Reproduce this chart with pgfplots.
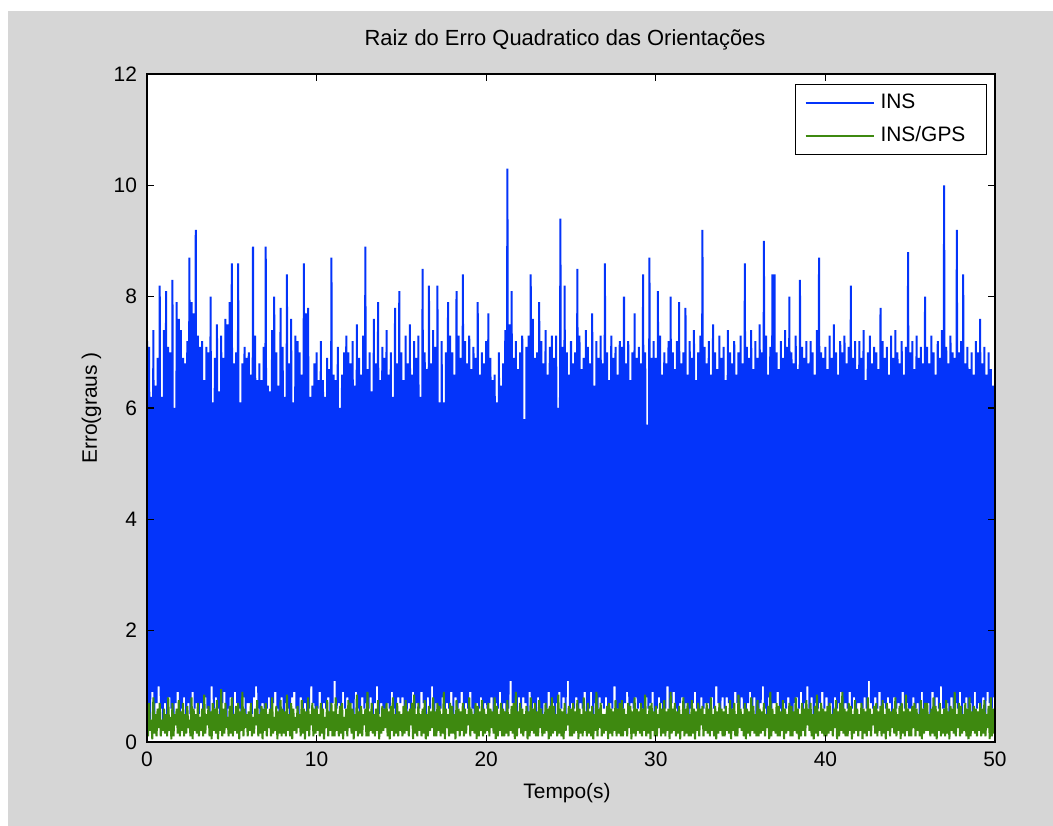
\documentclass[border=0pt]{standalone}
\usepackage{fontspec}
\setmainfont{Liberation Sans}
\usepackage{pgfplots}
\pgfplotsset{compat=1.18}

\definecolor{insblue}{RGB}{4,52,250}
\definecolor{gpsgreen}{RGB}{62,137,16}
\definecolor{figgray}{RGB}{214,214,214}
\newcommand{\lblfont}{\fontsize{10.5}{12.6}\selectfont}

\begin{document}
\begin{tikzpicture}
% figure background
\fill[white] (0,0) rectangle (526.5bp,413bp);
\fill[figgray] (4bp,0) rectangle (526.5bp,407.5bp);
\begin{axis}[
    at={(73.5bp,42bp)}, anchor=south west,
    scale only axis, width=424bp, height=334bp,
    xmin=0, xmax=50, ymin=0, ymax=12,
    xtick={0,10,20,30,40,50}, ytick={0,2,4,6,8,10,12},
    axis background/.style={fill=white},
    axis on top,
    tick align=inside, major tick length=3.5bp,
    axis line style={line width=0.6bp},
    every tick/.style={black,line width=0.6bp},
    tick label style={font=\lblfont},
    label style={font=\lblfont},
    /pgf/number format/assume math mode=true,
    xticklabel style={yshift=-1.5bp},
    yticklabel style={xshift=-1.5bp},
    title={Raiz do Erro Quadratico das Orientações},
    title style={at={(axis description cs:0.5,1)}, anchor=base, yshift=8.5bp, xshift=-3bp, font=\fontsize{11}{13}\selectfont},
    xlabel={Tempo(s)},
    xlabel style={at={(axis description cs:0.5,-0.0853)}, anchor=base, xshift=-2bp},
    ylabel={Erro(graus )},
    ylabel style={at={(axis description cs:-0.0654,0.5)}, anchor=center},
    legend style={at={(axis description cs:0.9906,0.985)}, anchor=north east,
        draw=black, line width=0.6bp, fill=white, font=\lblfont,
        inner xsep=4.5bp, inner ysep=1bp,
        nodes={inner xsep=1.5bp, inner ysep=3.75bp},
        cells={anchor=west}},
    legend image code/.code={\draw[#1,line width=0.75bp] (0bp,0bp) -- (34bp,0bp); \path (35.5bp,0bp);},
]
% INS: one value every 0.0625 s
\addplot[insblue, line width=1bp] table[header=false, x expr=\coordindex*0.0625, y index=0, row sep=\\] {
7.2\\0.6\\7.1\\0.4\\6.2\\0.9\\7.4\\0.5\\6.4\\0.7\\6.9\\1.0\\8.2\\0.6\\6.2\\0.3\\
7.4\\0.7\\8.1\\0.5\\7.1\\0.8\\7.0\\0.6\\8.3\\0.2\\6.0\\0.7\\7.9\\0.9\\7.6\\0.5\\
7.4\\0.6\\6.9\\0.8\\6.8\\0.4\\7.2\\0.7\\8.7\\0.5\\7.9\\0.9\\7.7\\0.6\\9.2\\0.7\\
7.3\\0.5\\7.1\\0.7\\7.2\\0.3\\6.5\\0.8\\7.1\\0.6\\7.0\\0.5\\8.0\\1.0\\6.1\\0.6\\
6.9\\0.8\\7.5\\0.6\\6.3\\0.5\\7.3\\0.7\\6.9\\0.9\\7.6\\0.4\\7.5\\0.6\\7.9\\0.8\\
8.6\\0.5\\6.8\\0.9\\7.0\\0.7\\8.6\\0.6\\6.1\\0.3\\6.8\\0.8\\7.1\\0.5\\6.9\\0.7\\
7.0\\0.7\\6.6\\0.5\\8.9\\0.8\\7.3\\1.0\\6.5\\0.6\\6.8\\0.4\\6.5\\0.7\\7.1\\0.6\\
8.9\\0.6\\6.4\\0.8\\6.3\\0.5\\7.4\\0.7\\8.0\\0.9\\7.0\\0.6\\6.4\\0.3\\7.8\\0.8\\
7.1\\0.5\\6.2\\0.7\\8.4\\0.6\\6.8\\0.4\\7.6\\0.8\\6.1\\0.9\\7.3\\0.6\\7.2\\0.5\\
7.0\\0.8\\6.6\\0.6\\8.6\\0.7\\7.7\\0.5\\7.8\\0.6\\6.2\\1.0\\6.4\\0.7\\6.8\\0.4\\
7.0\\0.6\\6.5\\0.9\\7.2\\0.5\\6.5\\0.7\\6.2\\0.6\\6.9\\0.8\\6.7\\0.4\\8.7\\0.7\\
6.6\\1.1\\6.5\\0.6\\7.1\\0.7\\6.0\\0.5\\6.6\\0.9\\7.0\\0.6\\7.3\\0.8\\7.0\\0.5\\
6.8\\0.7\\7.2\\0.5\\6.4\\0.9\\7.5\\0.6\\6.9\\0.4\\6.6\\0.8\\7.3\\0.6\\8.9\\0.7\\
6.7\\0.6\\7.0\\0.8\\6.3\\0.5\\7.6\\0.7\\6.8\\1.0\\7.9\\0.5\\6.5\\0.7\\7.1\\0.6\\
6.9\\0.5\\7.4\\0.7\\6.6\\0.6\\7.0\\0.9\\6.2\\0.6\\7.8\\0.4\\6.8\\0.8\\8.1\\0.7\\
7.0\\0.8\\6.5\\0.6\\7.3\\0.3\\6.8\\0.7\\7.5\\0.5\\6.6\\0.9\\7.2\\0.6\\6.9\\0.7\\
7.3\\0.6\\6.2\\0.9\\8.5\\0.7\\7.0\\0.5\\6.7\\0.8\\8.2\\0.6\\6.8\\1.0\\7.4\\0.5\\
7.1\\0.7\\8.2\\0.5\\6.1\\0.6\\7.2\\0.8\\6.1\\0.4\\7.0\\0.7\\7.9\\0.6\\7.3\\0.9\\
7.0\\0.5\\6.6\\0.8\\8.1\\0.6\\7.3\\0.7\\6.9\\0.9\\8.4\\0.5\\7.2\\0.7\\6.8\\0.6\\
7.3\\0.9\\6.7\\0.6\\7.1\\0.5\\6.9\\0.7\\7.9\\0.6\\6.6\\0.8\\7.0\\0.4\\6.8\\0.7\\
7.2\\0.6\\7.7\\0.7\\6.9\\0.8\\6.5\\0.5\\6.6\\0.7\\6.1\\0.6\\7.0\\0.9\\6.4\\0.5\\
6.8\\0.7\\7.4\\0.5\\10.3\\0.6\\7.5\\1.1\\8.1\\0.7\\6.9\\0.6\\7.2\\0.5\\6.7\\0.8\\
7.0\\0.6\\7.3\\0.8\\5.8\\0.7\\7.1\\0.5\\7.3\\0.9\\8.4\\0.6\\7.6\\0.7\\6.9\\0.4\\
7.0\\0.8\\7.9\\0.6\\7.2\\0.5\\6.8\\0.7\\7.4\\0.6\\6.6\\0.9\\7.1\\0.6\\7.3\\0.7\\
6.9\\0.5\\7.3\\0.7\\6.0\\0.9\\9.4\\0.6\\7.1\\0.8\\8.2\\0.5\\7.0\\1.1\\6.6\\0.6\\
7.2\\0.7\\6.8\\0.6\\7.0\\0.8\\8.5\\0.5\\7.3\\0.7\\6.7\\0.6\\6.9\\0.9\\7.4\\0.5\\
7.1\\0.6\\6.8\\0.9\\7.7\\0.5\\6.4\\0.7\\7.2\\0.6\\6.9\\0.8\\7.3\\0.7\\6.8\\0.6\\
8.6\\0.8\\7.0\\0.5\\6.5\\0.7\\7.3\\0.6\\6.9\\1.0\\7.1\\0.6\\6.6\\0.5\\7.2\\0.7\\
7.1\\0.6\\8.0\\0.7\\6.8\\0.9\\7.2\\0.5\\6.5\\0.7\\7.0\\0.6\\7.7\\0.8\\6.9\\0.6\\
7.1\\0.7\\6.8\\0.6\\8.4\\0.5\\7.0\\0.8\\5.7\\0.6\\8.7\\0.7\\6.9\\0.9\\7.2\\0.5\\
6.9\\0.6\\8.1\\0.8\\7.3\\0.7\\6.6\\0.5\\7.0\\0.6\\6.8\\1.0\\7.2\\0.6\\8.0\\0.7\\
7.0\\0.9\\6.7\\0.6\\7.2\\0.5\\7.9\\0.7\\6.8\\0.8\\7.0\\0.6\\7.8\\0.7\\6.6\\0.5\\
7.2\\0.6\\6.9\\0.7\\7.4\\0.9\\6.5\\0.6\\7.0\\0.5\\7.3\\0.8\\9.2\\0.6\\7.1\\0.7\\
6.8\\0.7\\7.2\\0.5\\6.6\\0.8\\7.5\\0.6\\7.0\\1.0\\6.7\\0.7\\7.3\\0.5\\6.9\\0.8\\
7.1\\0.6\\6.5\\0.8\\7.4\\0.7\\7.0\\0.5\\6.8\\0.6\\7.2\\0.9\\6.6\\0.7\\7.0\\0.6\\
7.3\\0.8\\6.8\\0.6\\8.6\\0.5\\7.1\\0.7\\6.9\\0.9\\7.4\\0.6\\6.7\\0.8\\7.2\\0.5\\
6.9\\0.6\\7.5\\0.7\\7.0\\1.0\\9.0\\0.6\\7.3\\0.5\\6.6\\0.8\\7.1\\0.6\\8.4\\0.7\\
8.4\\0.7\\7.0\\0.9\\6.7\\0.6\\7.2\\0.5\\6.9\\0.7\\7.4\\0.6\\7.1\\0.8\\8.0\\0.6\\
7.0\\0.5\\6.8\\0.7\\7.3\\0.8\\6.7\\0.6\\8.3\\0.9\\7.1\\0.5\\6.9\\0.7\\7.2\\1.0\\
6.8\\0.6\\7.2\\0.8\\7.0\\0.5\\6.6\\0.7\\7.4\\0.6\\8.7\\0.7\\7.0\\0.9\\6.9\\0.6\\
7.1\\0.8\\6.7\\0.6\\7.3\\0.7\\6.9\\0.5\\7.5\\0.8\\7.0\\0.6\\6.6\\0.7\\7.2\\0.9\\
7.0\\0.5\\7.3\\0.7\\6.8\\0.6\\7.1\\0.9\\8.2\\0.6\\6.9\\0.8\\7.2\\0.5\\6.7\\0.7\\
7.2\\0.7\\6.9\\0.6\\7.4\\0.8\\6.5\\0.6\\7.0\\1.1\\7.3\\0.7\\6.8\\0.6\\7.1\\0.8\\
7.0\\0.6\\6.7\\0.9\\7.8\\0.5\\7.2\\0.7\\6.9\\0.6\\7.1\\0.8\\6.6\\0.7\\7.3\\0.5\\
6.9\\0.8\\7.4\\0.6\\7.0\\0.7\\6.8\\0.5\\7.2\\0.9\\6.6\\0.6\\7.1\\0.7\\8.8\\0.6\\
7.0\\0.6\\7.2\\0.8\\6.7\\0.6\\7.3\\0.7\\6.9\\0.5\\7.1\\0.9\\6.8\\0.6\\8.0\\0.7\\
7.1\\0.7\\6.8\\0.5\\7.3\\0.9\\7.0\\0.6\\6.6\\0.8\\7.2\\0.6\\6.9\\1.0\\7.4\\0.6\\
10.0\\0.6\\7.1\\0.7\\6.8\\0.5\\7.3\\0.8\\7.0\\0.6\\6.9\\0.7\\9.2\\0.6\\7.0\\0.9\\
7.2\\0.5\\8.4\\0.7\\6.8\\0.8\\7.1\\0.6\\6.7\\0.7\\7.0\\0.5\\6.6\\0.9\\7.2\\0.6\\
7.0\\0.7\\7.6\\0.6\\6.8\\0.8\\7.1\\0.5\\6.6\\0.9\\7.0\\0.7\\6.7\\0.6\\6.4\\0.8\\
6.4\\
};
% INS/GPS
\addplot[gpsgreen, line width=1bp] table[header=false, x expr=\coordindex*0.0625, y index=0, row sep=\\] {
0.5\\0.1\\0.7\\0.2\\0.4\\0.05\\0.8\\0.15\\0.5\\0.1\\0.6\\0.25\\0.7\\0.1\\0.4\\0.2\\
0.6\\0.15\\0.5\\0.1\\0.8\\0.2\\0.45\\0.05\\0.7\\0.1\\0.5\\0.3\\0.6\\0.15\\0.75\\0.1\\
0.55\\0.2\\0.7\\0.1\\0.5\\0.15\\0.65\\0.25\\0.4\\0.1\\0.8\\0.05\\0.6\\0.2\\0.5\\0.15\\
0.7\\0.1\\0.45\\0.2\\0.6\\0.1\\0.85\\0.15\\0.5\\0.3\\0.65\\0.1\\0.55\\0.05\\0.7\\0.2\\
0.6\\0.15\\0.75\\0.05\\0.5\\0.2\\0.95\\0.1\\0.6\\0.15\\0.7\\0.25\\0.45\\0.1\\0.65\\0.15\\
0.8\\0.1\\0.5\\0.2\\0.65\\0.15\\0.7\\0.05\\0.55\\0.2\\0.9\\0.1\\0.6\\0.25\\0.5\\0.1\\
0.55\\0.2\\0.7\\0.1\\0.45\\0.15\\0.6\\0.3\\0.75\\0.1\\0.5\\0.15\\0.65\\0.05\\0.6\\0.2\\
0.7\\0.1\\0.5\\0.25\\0.6\\0.1\\0.8\\0.15\\0.45\\0.2\\0.65\\0.05\\0.55\\0.15\\0.75\\0.1\\
0.6\\0.15\\0.55\\0.1\\0.85\\0.2\\0.5\\0.1\\0.7\\0.05\\0.6\\0.2\\0.45\\0.15\\0.65\\0.25\\
0.5\\0.1\\0.75\\0.15\\0.6\\0.05\\0.55\\0.2\\0.8\\0.1\\0.5\\0.3\\0.7\\0.1\\0.6\\0.15\\
0.65\\0.2\\0.5\\0.1\\0.7\\0.15\\0.6\\0.05\\0.45\\0.25\\0.75\\0.1\\0.55\\0.2\\0.7\\0.1\\
0.55\\0.1\\0.8\\0.2\\0.5\\0.1\\0.65\\0.15\\0.7\\0.05\\0.45\\0.2\\0.6\\0.1\\0.75\\0.25\\
0.7\\0.15\\0.6\\0.05\\0.5\\0.2\\0.85\\0.1\\0.55\\0.15\\0.65\\0.1\\0.5\\0.3\\0.6\\0.1\\
0.9\\0.1\\0.55\\0.2\\0.7\\0.15\\0.5\\0.1\\0.6\\0.2\\0.75\\0.05\\0.45\\0.15\\0.65\\0.2\\
0.6\\0.25\\0.7\\0.1\\0.55\\0.05\\0.65\\0.2\\0.8\\0.1\\0.5\\0.15\\0.7\\0.1\\0.55\\0.2\\
0.5\\0.1\\0.65\\0.15\\0.75\\0.2\\0.55\\0.1\\0.6\\0.3\\0.7\\0.05\\0.85\\0.15\\0.5\\0.1\\
0.7\\0.2\\0.5\\0.1\\0.6\\0.15\\0.75\\0.05\\0.5\\0.1\\0.65\\0.2\\0.55\\0.25\\0.8\\0.1\\
0.55\\0.1\\0.7\\0.2\\0.65\\0.1\\0.5\\0.15\\0.9\\0.05\\0.6\\0.25\\0.5\\0.1\\0.7\\0.15\\
0.65\\0.15\\0.5\\0.05\\0.75\\0.2\\0.6\\0.1\\0.55\\0.2\\0.7\\0.1\\0.6\\0.15\\0.5\\0.3\\
0.8\\0.1\\0.6\\0.2\\0.5\\0.15\\0.7\\0.05\\0.65\\0.1\\0.55\\0.2\\0.75\\0.1\\0.6\\0.15\\
0.5\\0.2\\0.7\\0.1\\0.6\\0.25\\0.55\\0.15\\0.8\\0.05\\0.65\\0.1\\0.5\\0.2\\0.7\\0.1\\
0.6\\0.1\\0.55\\0.15\\0.75\\0.1\\0.5\\0.2\\0.65\\0.15\\0.7\\0.05\\0.9\\0.1\\0.55\\0.25\\
0.7\\0.15\\0.6\\0.1\\0.5\\0.2\\0.65\\0.05\\0.55\\0.1\\0.8\\0.2\\0.6\\0.15\\0.7\\0.1\\
0.55\\0.1\\0.75\\0.25\\0.6\\0.1\\0.5\\0.15\\0.7\\0.2\\0.6\\0.05\\0.65\\0.1\\0.8\\0.15\\
0.65\\0.2\\0.5\\0.1\\0.85\\0.15\\0.6\\0.1\\0.55\\0.05\\0.7\\0.2\\0.5\\0.3\\0.65\\0.1\\
0.6\\0.1\\0.7\\0.15\\0.55\\0.2\\0.75\\0.05\\0.6\\0.15\\0.5\\0.1\\0.8\\0.2\\0.55\\0.1\\
0.7\\0.15\\0.55\\0.1\\0.65\\0.05\\0.5\\0.2\\0.9\\0.1\\0.6\\0.25\\0.7\\0.1\\0.5\\0.15\\
0.5\\0.2\\0.65\\0.05\\0.7\\0.15\\0.6\\0.1\\0.55\\0.2\\0.75\\0.1\\0.6\\0.15\\0.7\\0.1\\
0.75\\0.1\\0.6\\0.2\\0.5\\0.1\\0.7\\0.25\\0.65\\0.05\\0.55\\0.15\\0.8\\0.1\\0.6\\0.2\\
0.55\\0.15\\0.7\\0.1\\0.6\\0.2\\0.85\\0.1\\0.5\\0.15\\0.65\\0.05\\0.7\\0.2\\0.55\\0.1\\
0.65\\0.1\\0.5\\0.25\\0.7\\0.1\\0.6\\0.15\\0.75\\0.1\\0.55\\0.2\\0.6\\0.05\\0.9\\0.15\\
0.6\\0.2\\0.7\\0.1\\0.55\\0.15\\0.65\\0.05\\0.5\\0.2\\0.8\\0.1\\0.6\\0.15\\0.7\\0.1\\
0.5\\0.1\\0.75\\0.15\\0.6\\0.05\\0.55\\0.2\\0.7\\0.1\\0.6\\0.3\\0.65\\0.1\\0.5\\0.2\\
0.7\\0.15\\0.6\\0.1\\0.8\\0.2\\0.5\\0.1\\0.65\\0.05\\0.55\\0.15\\0.7\\0.2\\0.6\\0.1\\
0.55\\0.1\\0.65\\0.2\\0.5\\0.15\\0.75\\0.05\\0.6\\0.2\\0.7\\0.1\\0.5\\0.1\\0.85\\0.25\\
0.6\\0.2\\0.5\\0.1\\0.7\\0.05\\0.6\\0.15\\0.55\\0.1\\0.8\\0.2\\0.65\\0.15\\0.5\\0.1\\
0.75\\0.1\\0.6\\0.15\\0.55\\0.2\\0.7\\0.1\\0.5\\0.25\\0.65\\0.05\\0.9\\0.1\\0.6\\0.2\\
0.5\\0.15\\0.7\\0.1\\0.65\\0.1\\0.55\\0.2\\0.75\\0.05\\0.6\\0.15\\0.5\\0.2\\0.7\\0.1\\
0.65\\0.1\\0.55\\0.2\\0.8\\0.15\\0.6\\0.05\\0.5\\0.1\\0.7\\0.2\\0.6\\0.1\\0.75\\0.3\\
0.6\\0.2\\0.7\\0.1\\0.5\\0.05\\0.65\\0.15\\0.85\\0.1\\0.55\\0.2\\0.7\\0.15\\0.6\\0.1\\
0.55\\0.1\\0.65\\0.15\\0.7\\0.2\\0.5\\0.1\\0.6\\0.25\\0.75\\0.05\\0.55\\0.1\\0.7\\0.2\\
0.9\\0.15\\0.6\\0.1\\0.55\\0.1\\0.7\\0.2\\0.65\\0.05\\0.5\\0.15\\0.75\\0.2\\0.6\\0.1\\
0.5\\0.2\\0.7\\0.05\\0.6\\0.15\\0.55\\0.1\\0.8\\0.2\\0.6\\0.1\\0.5\\0.3\\0.65\\0.15\\
0.7\\0.1\\0.55\\0.2\\0.65\\0.1\\0.75\\0.15\\0.5\\0.05\\0.7\\0.2\\0.6\\0.1\\0.55\\0.25\\
0.6\\0.15\\0.8\\0.1\\0.5\\0.2\\0.65\\0.05\\0.7\\0.15\\0.55\\0.1\\0.85\\0.2\\0.6\\0.1\\
0.55\\0.1\\0.65\\0.25\\0.7\\0.1\\0.6\\0.2\\0.5\\0.1\\0.75\\0.05\\0.6\\0.15\\0.7\\0.2\\
0.7\\0.2\\0.5\\0.1\\0.6\\0.15\\0.8\\0.1\\0.65\\0.05\\0.55\\0.2\\0.7\\0.1\\0.5\\0.15\\
0.6\\0.1\\0.75\\0.15\\0.55\\0.05\\0.65\\0.2\\0.6\\0.15\\0.9\\0.1\\0.5\\0.25\\0.7\\0.1\\
0.65\\0.15\\0.5\\0.2\\0.7\\0.1\\0.6\\0.05\\0.8\\0.1\\0.55\\0.2\\0.65\\0.15\\0.6\\0.1\\
0.55\\0.2\\0.7\\0.1\\0.6\\0.15\\0.75\\0.1\\0.5\\0.25\\0.65\\0.05\\0.8\\0.1\\0.6\\0.15\\
0.6\\
};
\legend{INS, INS/GPS\rule{4.5bp}{0pt}}
\end{axis}
\end{tikzpicture}
\end{document}
